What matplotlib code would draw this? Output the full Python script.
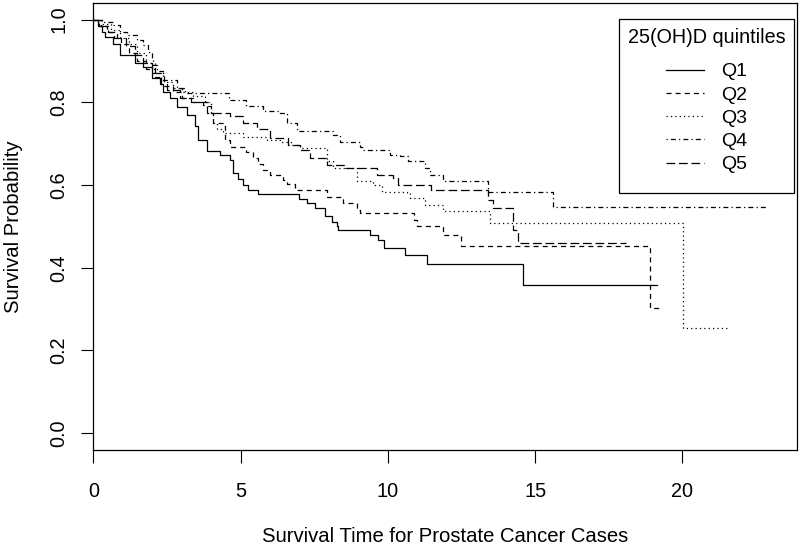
import matplotlib
matplotlib.use("Agg")
import matplotlib.pyplot as plt
from matplotlib.offsetbox import DrawingArea

plt.rcParams['font.family'] = ['Liberation Sans', 'DejaVu Sans']

# ---- data ----
q1_t = [0, 0.15, 0.3, 0.4, 0.67, 0.9, 1.42, 1.7, 2.0, 2.27, 2.38, 2.6, 2.83, 3.17, 3.45, 3.55, 3.85,
        4.3, 4.64, 4.75, 4.9, 5.09, 5.26, 5.6, 6.97, 7.25, 7.53, 7.87, 8.1, 8.26, 8.32, 9.4, 9.67,
        9.87, 10.58, 11.32, 14.6, 19.13]
q1_s = [1.0, 0.985, 0.97, 0.959, 0.94, 0.915, 0.894, 0.886, 0.858, 0.843, 0.826, 0.81, 0.789, 0.77,
        0.742, 0.709, 0.681, 0.673, 0.661, 0.629, 0.615, 0.6, 0.588, 0.578, 0.566, 0.556, 0.544,
        0.524, 0.51, 0.5, 0.4915, 0.479, 0.466, 0.447, 0.43, 0.409, 0.358, 0.358]

q2_t = [0, 0.2, 0.45, 0.7, 0.95, 1.2, 1.5, 1.8, 2.1, 2.4, 2.7, 3.0, 3.4, 3.85, 4.0, 4.07, 4.4, 4.47,
        4.64, 5.2, 5.43, 5.6, 5.77, 6.0, 6.44, 6.57, 6.85, 7.93, 8.49, 8.94, 9.06, 10.9, 10.98,
        11.88, 12.5, 18.9, 19.3]
q2_s = [1.0, 0.985, 0.97, 0.955, 0.94, 0.92, 0.9, 0.88, 0.86, 0.84, 0.825, 0.81, 0.8, 0.79, 0.774,
        0.75, 0.742, 0.709, 0.693, 0.68, 0.666, 0.65, 0.637, 0.625, 0.613, 0.602, 0.587, 0.572,
        0.556, 0.54, 0.533, 0.516, 0.5, 0.479, 0.4535, 0.303, 0.303]

q3_t = [0, 0.3, 0.6, 0.9, 1.2, 1.5, 1.8, 2.1, 2.4, 2.7, 3.0, 3.4, 3.8, 4.0, 4.07, 4.2, 4.41, 5.09,
        5.89, 6.34, 6.7, 7.02, 7.93, 8.15, 8.94, 9.5, 9.79, 10.64, 10.75, 11.26, 11.88, 13.47,
        20.01, 21.5]
q3_s = [1.0, 0.99, 0.975, 0.955, 0.94, 0.92, 0.895, 0.87, 0.85, 0.835, 0.825, 0.815, 0.8, 0.775,
        0.75, 0.735, 0.726, 0.717, 0.709, 0.705, 0.697, 0.689, 0.657, 0.641, 0.609, 0.6, 0.584,
        0.58, 0.568, 0.552, 0.536, 0.508, 0.255, 0.255]

q4_t = [0, 0.34, 0.68, 0.9, 1.13, 1.5, 1.7, 1.87, 1.98, 2.04, 2.15, 2.38, 2.83, 3.1, 4.6, 5.2, 5.77,
        6.3, 6.57, 6.9, 8.15, 8.38, 9.06, 9.17, 10.07, 10.41, 10.7, 11.26, 11.43, 11.88, 13.41,
        15.6, 22.9]
q4_s = [1.0, 0.995, 0.987, 0.97, 0.963, 0.95, 0.939, 0.922, 0.906, 0.89, 0.875, 0.855, 0.835,
        0.822, 0.806, 0.79, 0.778, 0.774, 0.75, 0.73, 0.722, 0.705, 0.693, 0.685, 0.673, 0.669,
        0.657, 0.641, 0.625, 0.609, 0.584, 0.546, 0.546]

q5_t = [0, 0.25, 0.5, 0.8, 1.1, 1.4, 1.7, 2.0, 2.3, 2.49, 2.94, 3.3, 3.73, 3.85, 4.64, 5.09, 5.55,
        6.0, 6.6, 7.02, 7.36, 7.93, 8.5, 9.62, 10.19, 10.36, 11.45, 13.41, 13.58, 14.26, 14.43,
        18.1]
q5_s = [1.0, 0.985, 0.97, 0.955, 0.935, 0.915, 0.895, 0.87, 0.845, 0.83, 0.81, 0.8, 0.794, 0.774,
        0.766, 0.75, 0.735, 0.713, 0.697, 0.685, 0.665, 0.649, 0.641, 0.625, 0.617, 0.6, 0.588,
        0.564, 0.544, 0.4915, 0.459, 0.459]

labels = ['Q1', 'Q2', 'Q3', 'Q4', 'Q5']
x_ticks = [0, 5, 10, 15, 20]
y_ticks = [0.0, 0.2, 0.4, 0.6, 0.8, 1.0]

styles = ['-', (0, (4, 3.3)), (0, (1, 2.5)), (0, (1, 2.5, 4, 2.5)), (0, (7, 3))]

fig = plt.figure(figsize=(8, 5.48), dpi=100)
ax = fig.add_axes([93.3 / 800, 1 - 449.7 / 548, (796.7 - 93.3) / 800, (449.7 - 3) / 548])

series = [(q1_t, q1_s), (q2_t, q2_s), (q3_t, q3_s), (q4_t, q4_s), (q5_t, q5_s)]
for (t, s), lab, ls in zip(series, labels, styles):
    ax.plot(t, s, drawstyle='steps-post', color='black', lw=0.9, linestyle=ls, label=lab)

ax.set_xlim(0, 23.88)
ax.set_ylim(-0.04, 1.04)
ax.set_xticks(x_ticks)
ax.set_xticklabels([str(v) for v in x_ticks])
ax.set_yticks(y_ticks)
ax.set_yticklabels(['%.1f' % v for v in y_ticks], rotation=90, va='center')
ax.tick_params(axis='both', length=9, width=0.8, labelsize=14.3, color='black')
ax.tick_params(axis='x', pad=14)
ax.tick_params(axis='y', pad=9)
for sp in ax.spines.values():
    sp.set_linewidth(0.9)

ax.set_xlabel('Survival Time for Prostate Cancer Cases', fontsize=14.6)
ax.set_ylabel('Survival Probability', fontsize=14.6)
ax.xaxis.label.set_va('center')
ax.yaxis.label.set_va('center')
ax.xaxis.set_label_coords(0.5, (449.7 - 537) / 446.7)
ax.yaxis.set_label_coords((14 - 93.3) / 703.4, 0.5)

leg = ax.legend(title='25(OH)D quintiles', loc='upper right',
                bbox_to_anchor=((794.3 - 93.3) / 703.4, (449.7 - 19.3) / 446.7),
                borderaxespad=0, fontsize=14, title_fontsize=14.2, frameon=True,
                fancybox=False, edgecolor='black', framealpha=1,
                handlelength=1.94, handletextpad=0.9, labelspacing=0.29,
                borderpad=0.45)
leg.get_frame().set_linewidth(0.9)
# R-style legend spacing: larger gap below the title, extra room at the bottom
try:
    leg._legend_box.sep = 11.4
    col = leg._legend_handle_box.get_children()[0]
    col._children.append(DrawingArea(0, 3.5))
except Exception:
    pass

fig.savefig('out.png', dpi=100)
